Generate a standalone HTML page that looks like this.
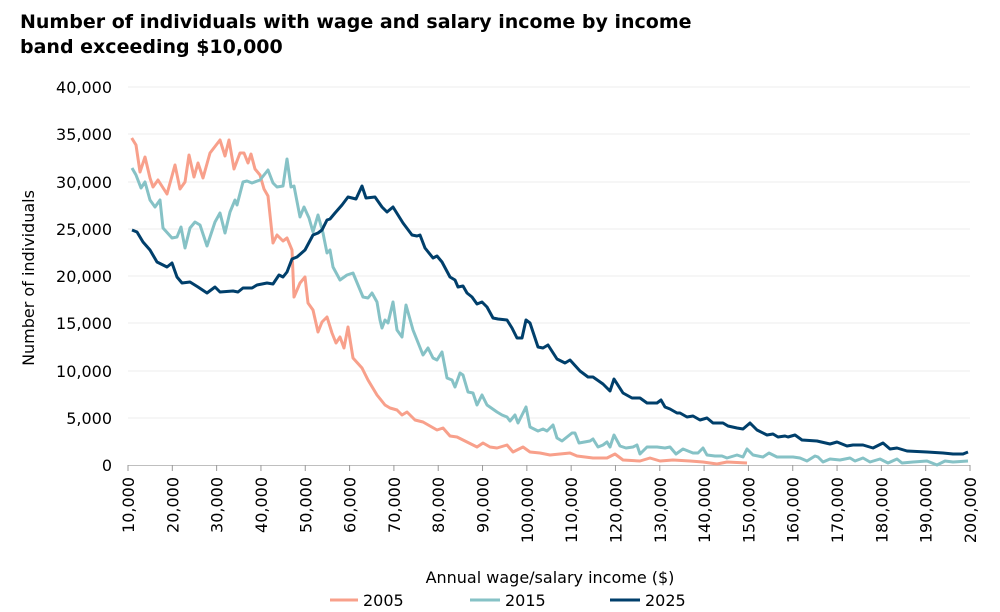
<!DOCTYPE html>
<html><head><meta charset="utf-8"><style>
body{margin:0;background:#fff;}
svg{display:block;font-family:"DejaVu Sans","Liberation Sans",sans-serif;}
</style></head><body>
<svg width="1000" height="612" viewBox="0 0 1000 612" xmlns="http://www.w3.org/2000/svg">
<text x="20" y="28" font-size="19" font-weight="bold" fill="#000">Number of individuals with wage and salary income by income</text>
<text x="20" y="53" font-size="19" font-weight="bold" fill="#000">band exceeding $10,000</text>
<g stroke="#eeeeee" stroke-width="1">
<line x1="128" x2="970" y1="418" y2="418"/><line x1="128" x2="970" y1="371" y2="371"/>
<line x1="128" x2="970" y1="323" y2="323"/><line x1="128" x2="970" y1="276" y2="276"/>
<line x1="128" x2="970" y1="229" y2="229"/><line x1="128" x2="970" y1="182" y2="182"/>
<line x1="128" x2="970" y1="134" y2="134"/><line x1="128" x2="970" y1="87" y2="87"/>
</g>
<line x1="128" x2="970" y1="465.5" y2="465.5" stroke="#bfbfbf"/>
<g font-size="16" fill="#000" text-anchor="end">
<text x="112" y="471">0</text><text x="112" y="424">5,000</text><text x="112" y="377">10,000</text>
<text x="112" y="329">15,000</text><text x="112" y="282">20,000</text><text x="112" y="235">25,000</text>
<text x="112" y="188">30,000</text><text x="112" y="140">35,000</text><text x="112" y="93">40,000</text>
</g>
<g id="xt" stroke="#999" stroke-width="1"></g>
<g font-size="16" fill="#000" text-anchor="end" id="xl"></g>
<text transform="translate(34,278) rotate(-90)" font-size="16" text-anchor="middle">Number of individuals</text>
<text x="550" y="583" font-size="16" text-anchor="middle">Annual wage/salary income ($)</text>
<g fill="none" stroke-width="3" stroke-linejoin="round">
<polyline stroke="#f8a08b" points="131.7,138 136,145 140,172 145,157 150,178 153,187 158,180 167,194 175,165 180,189 185,182 189,155 194,177 198,163 203,178 210,153 220,140 225,156 229,140 234,169 240,153 244,153 248,163 251,154 255,169 260,175 264,189 268,196 273,243 277,235 283,241 287,238 292,250 294,297 300,283 305,277 308,303 313,310 318,332 322,322 327,317 332,333 336,343 340,337 344,348 348,327 353,358 362,368 368,380 377,395 385,405 390,408 397,410 402,415 407,412 415,420 423,422 430,426 437,430 443,428 450,436 457,437 467,442 477,447 483,443 490,447 497,448 507,445 513,452 523,447 530,452 540,453 550,455 570,453 577,456 593,458 607,458 615,454 623,460 640,461 650,458 660,461 673,460 690,461 703,462 717,464 727,462 747,463"/>
<polyline stroke="#86c2c6" points="132,168 136,175 141,188 145,182 150,200 155,207 160,200 163,228 172,238 177,237 181,227 185,248 190,228 195,222 200,225 207,246 215,222 220,213 225,233 230,212 235,200 237,205 243,182 247,181 252,183 260,180 268,170 273,183 277,187 283,186 287,159 291,187 294,186 300,217 304,207 309,218 313,232 318,215 323,233 327,253 330,250 333,267 340,280 347,275 353,273 358,285 363,297 368,298 372,293 377,302 380,320 382,328 385,320 388,323 393,302 397,330 402,337 406,305 413,330 423,355 428,348 433,358 437,360 442,352 447,378 452,380 455,387 460,373 463,375 468,392 473,393 477,405 482,395 487,405 497,412 502,415 507,417 510,421 515,415 518,423 526,407 530,427 538,431 543,429 547,431 553,425 557,438 562,441 567,437 572,433 575,433 579,443 590,441 593,439 598,447 603,445 607,442 610,447 614,435 620,446 626,448 633,447 637,445 640,454 647,447 657,447 665,448 670,447 676,454 683,449 693,453 698,453 703,448 707,455 715,456 722,456 727,458 737,455 743,457 747,449 753,455 763,457 769,453 777,457 793,457 800,458 807,461 815,456 818,457 823,462 830,459 840,460 850,458 855,461 863,458 870,462 880,459 888,463 897,459 902,463 913,462 927,461 937,465 945,461 953,462 968,461"/>
<polyline stroke="#003f6b" points="132,230 137,232 143,242 150,250 157,262 167,267 172,263 177,277 182,283 190,282 198,287 207,293 215,287 220,292 233,291 238,292 243,288 252,288 257,285 267,283 273,284 279,275 283,277 287,272 292,259 297,257 305,250 313,235 318,233 322,230 327,220 330,219 335,213 342,205 348,197 356,199 362,186 366,198 375,197 382,207 387,212 393,207 403,223 412,235 417,236 420,235 425,248 433,258 437,256 442,262 450,277 455,280 458,287 463,286 467,293 472,297 477,304 482,302 487,307 493,318 498,319 507,320 512,328 517,338 522,338 526,320 530,323 538,347 543,348 548,345 557,359 565,363 570,360 580,371 588,377 593,377 603,384 610,391 614,379 623,393 632,398 640,398 647,403 657,403 661,400 665,407 670,409 677,413 680,413 687,417 693,416 700,420 707,418 713,423 723,423 728,426 737,428 743,429 750,423 757,430 767,435 773,434 778,437 785,436 788,437 795,435 802,440 817,441 830,444 837,442 847,446 853,445 863,445 873,448 883,443 890,449 897,448 907,451 927,452 943,453 953,454 963,454 968,452"/>
</g>
<g stroke-width="3">
<line x1="330" x2="358" y1="600" y2="600" stroke="#f8a08b"/>
<line x1="470" x2="500" y1="600" y2="600" stroke="#86c2c6"/>
<line x1="610" x2="640" y1="600" y2="600" stroke="#003f6b"/>
</g>
<g font-size="16" fill="#000">
<text x="363" y="606">2005</text><text x="505" y="606">2015</text><text x="645" y="606">2025</text>
</g>
<script>
(function(){
var ns="http://www.w3.org/2000/svg",t=document.getElementById("xt"),l=document.getElementById("xl");
for(var i=0;i<=19;i++){
var x=128+i*842/19;
var ln=document.createElementNS(ns,"line");
ln.setAttribute("x1",x);ln.setAttribute("x2",x);ln.setAttribute("y1",465);ln.setAttribute("y2",471);t.appendChild(ln);
var v=(10+i*10)*1000;
var tx=document.createElementNS(ns,"text");
tx.setAttribute("transform","translate("+(x+6)+",477) rotate(-90)");
tx.textContent=v.toLocaleString("en-US");l.appendChild(tx);
}
})();
</script>
</svg>
</body></html>
